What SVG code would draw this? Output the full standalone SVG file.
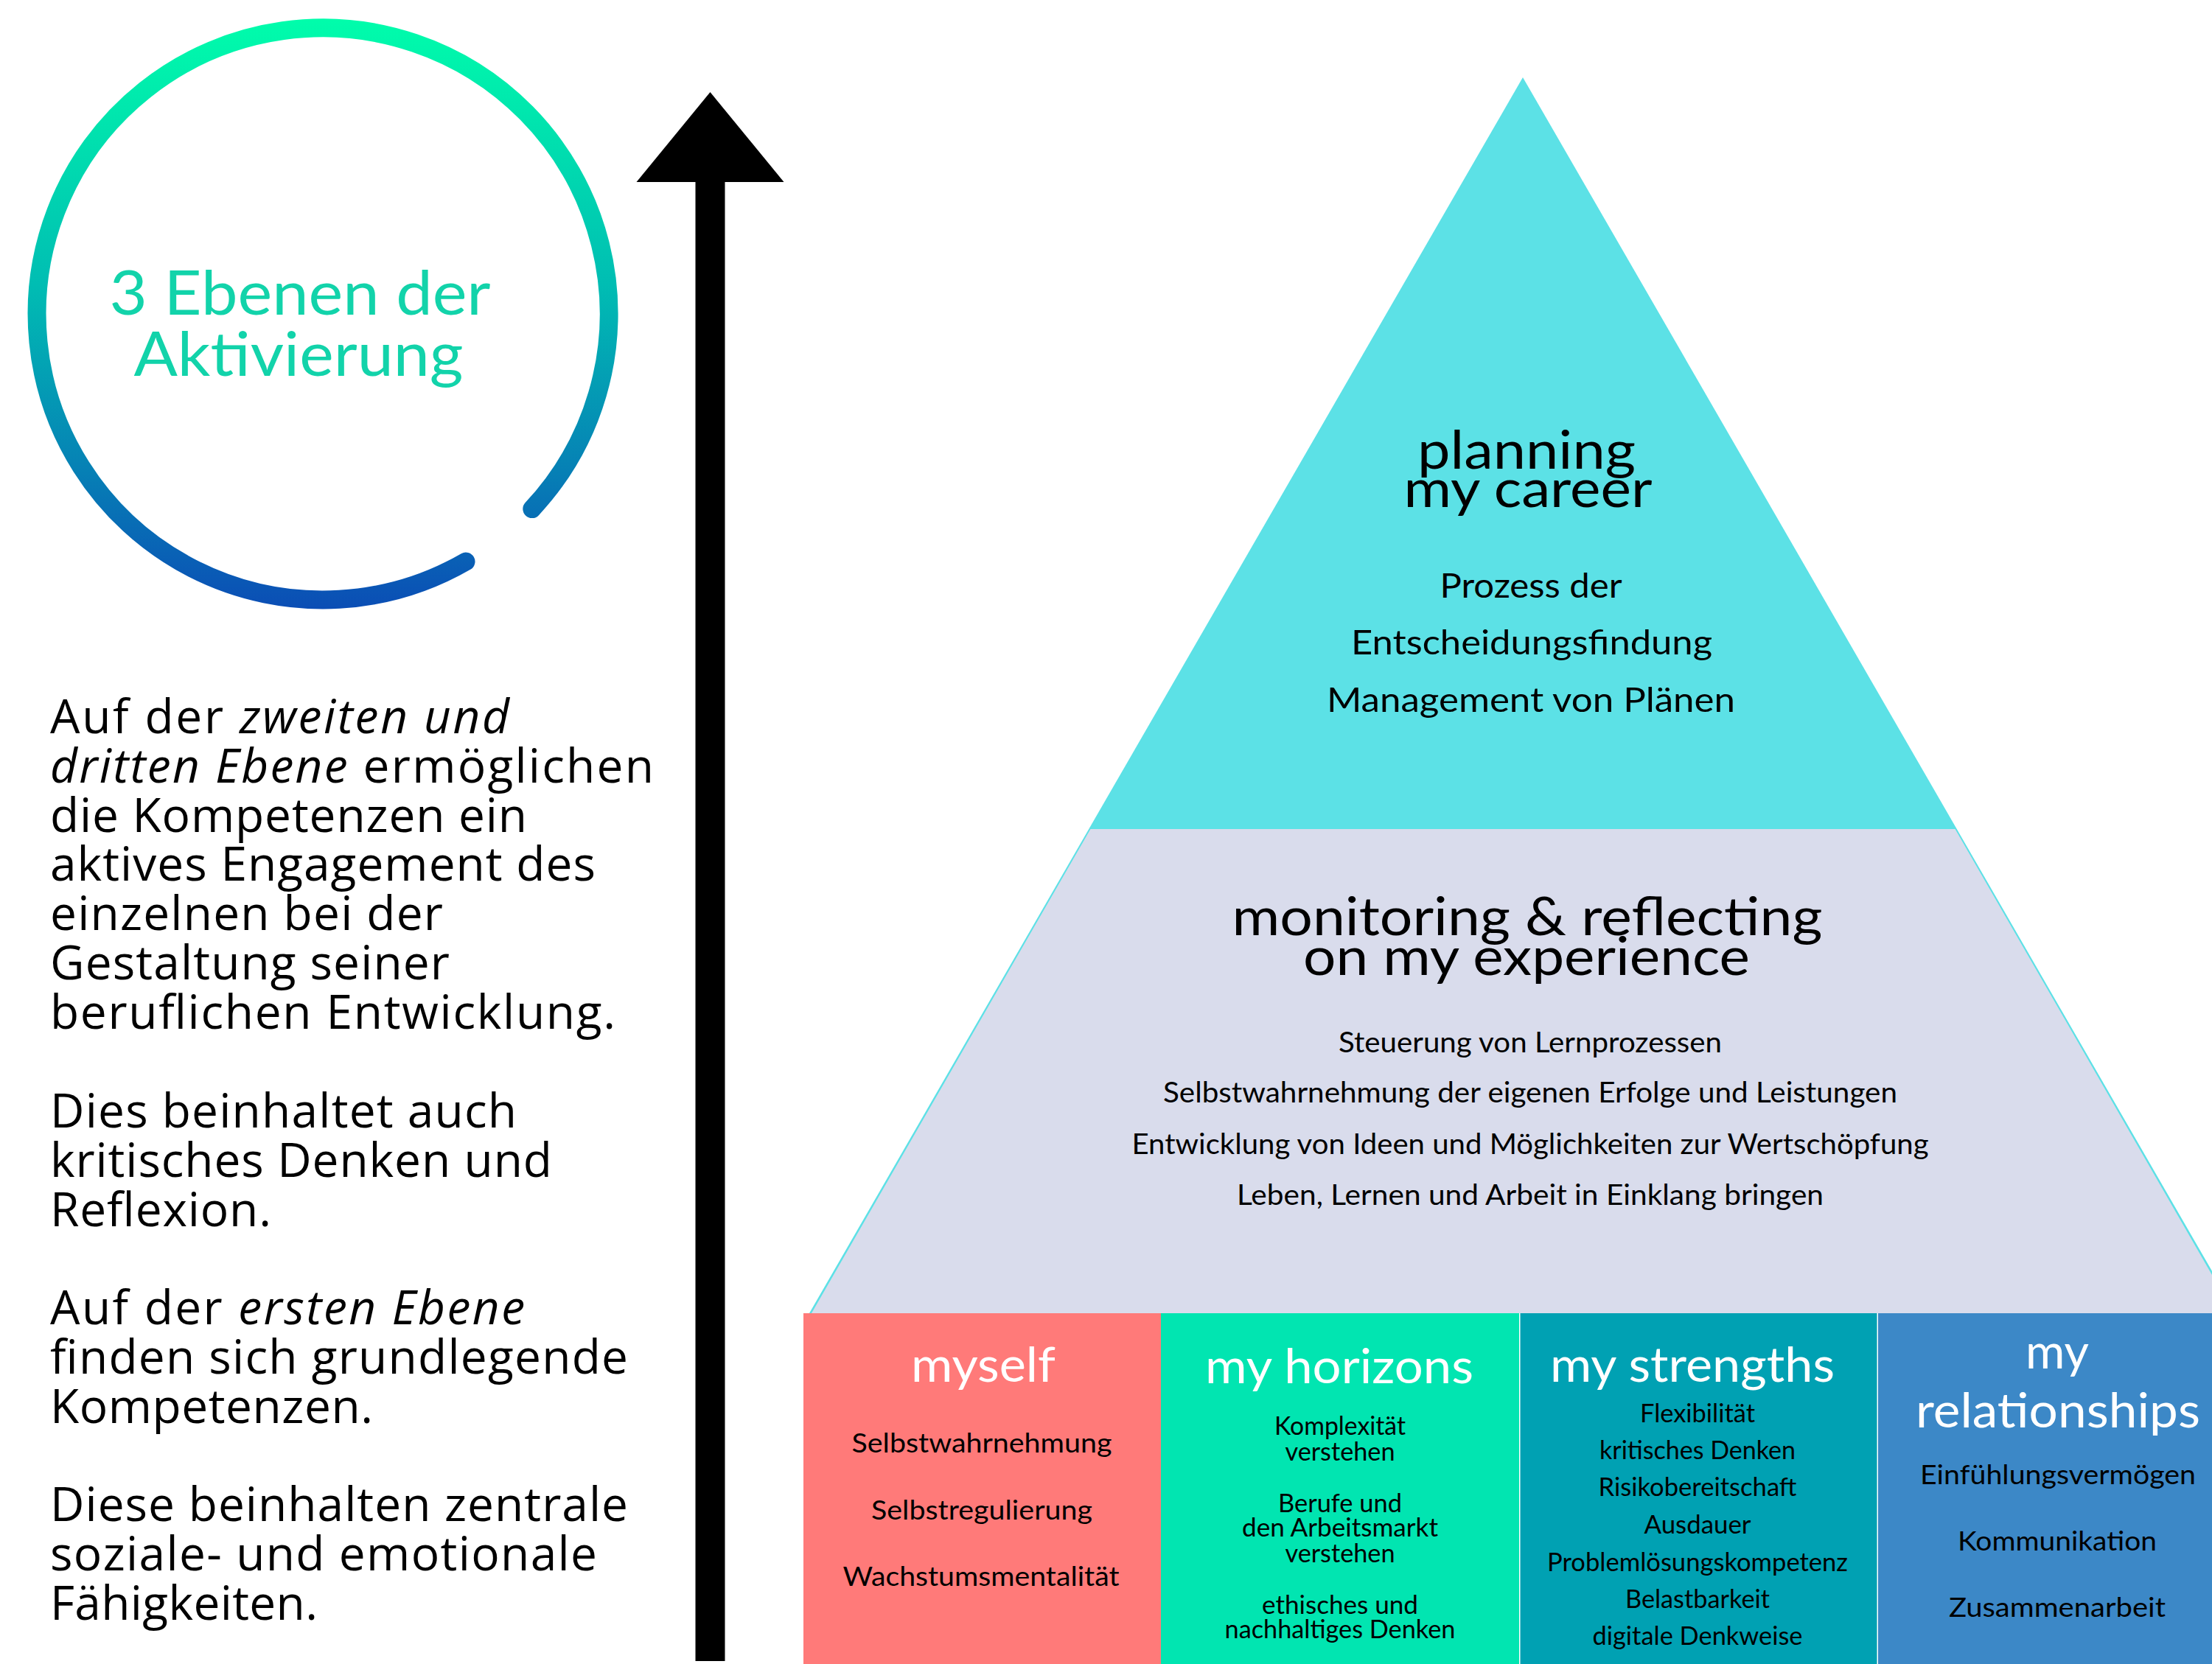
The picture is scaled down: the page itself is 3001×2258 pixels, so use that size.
<svg xmlns="http://www.w3.org/2000/svg" width="3001" height="2258" viewBox="0 0 3001 2258">
<defs>
<linearGradient id="ringGrad" gradientUnits="userSpaceOnUse" x1="0" y1="26" x2="0" y2="828">
<stop offset="0" stop-color="#00FDAB"/>
<stop offset="0.45" stop-color="#00BDB3"/>
<stop offset="0.75" stop-color="#0683B5"/>
<stop offset="1" stop-color="#0B4DB5"/>
</linearGradient>
<marker id="arrowHead" markerUnits="userSpaceOnUse" markerWidth="122" markerHeight="200" viewBox="0 0 122 200" refX="0" refY="100" orient="auto" overflow="visible">
<path d="M0,0 L122,100 L0,200 Z" fill="#000"/>
</marker>
</defs>
<style>
.body{font-family:"Open Sans","Noto Sans",sans-serif;font-size:64px;fill:#000}
.it{font-style:italic}
.cal{font-family:Lato,"Open Sans",sans-serif;text-anchor:middle}
.title{fill:#12D3AA;font-size:84px;font-weight:400}
.h1{font-size:72px;fill:#000}
.subtop{font-size:46px;fill:#000}
.submid{font-size:38px;fill:#000}
.bh{font-size:66px;fill:#fff}
.bil{font-size:37px;fill:#000}
.bis{font-size:34px;fill:#000}
</style>
<rect x="0" y="0" width="3001" height="2258" fill="#fff"/>

<g id="title-ring">
<path d="M 632 762 A 388 388 0 1 1 721.8 690.6" fill="none" stroke="url(#ringGrad)" stroke-width="25" stroke-linecap="round"/>
<text class="cal title" x="407" y="427" textLength="517" lengthAdjust="spacingAndGlyphs">3 Ebenen der</text>
<text class="cal title" x="405" y="510" textLength="447" lengthAdjust="spacingAndGlyphs">Aktivierung</text>
</g>

<g id="connectors">
<line x1="963.5" y1="2254" x2="963.5" y2="247" stroke="#000" stroke-width="40" marker-end="url(#arrowHead)"/>
</g>

<g id="description">
<text class="body" x="68" y="995" textLength="623">Auf der <tspan class="it">zweiten und</tspan></text>
<text class="body" x="68" y="1062" textLength="819"><tspan class="it">dritten Ebene</tspan> ermöglichen</text>
<text class="body" x="68" y="1129" textLength="647">die Kompetenzen ein</text>
<text class="body" x="68" y="1195" textLength="740">aktives Engagement des</text>
<text class="body" x="68" y="1262" textLength="533">einzelnen bei der</text>
<text class="body" x="68" y="1329" textLength="542">Gestaltung seiner</text>
<text class="body" x="68" y="1396" textLength="767">beruflichen Entwicklung.</text>
<text class="body" x="68" y="1530" textLength="633">Dies beinhaltet auch</text>
<text class="body" x="68" y="1597" textLength="681">kritisches Denken und</text>
<text class="body" x="68" y="1664" textLength="300">Reflexion.</text>
<text class="body" x="68" y="1797" textLength="644">Auf der <tspan class="it">ersten Ebene</tspan></text>
<text class="body" x="68" y="1864" textLength="784">finden sich grundlegende</text>
<text class="body" x="68" y="1931" textLength="438">Kompetenzen.</text>
<text class="body" x="68" y="2064" textLength="784">Diese beinhalten zentrale</text>
<text class="body" x="68" y="2131" textLength="742">soziale- und emotionale</text>
<text class="body" x="68" y="2198" textLength="363">Fähigkeiten.</text>
</g>

<g id="level-planning">
<polygon points="2066,105 3034,1782 1098,1782" fill="#5CE1E6"/>
<text class="cal h1" x="2071" y="636" textLength="296" lengthAdjust="spacingAndGlyphs">planning</text>
<text class="cal h1" x="2073" y="688" textLength="337" lengthAdjust="spacingAndGlyphs">my career</text>
<text class="cal subtop" x="2077" y="811" textLength="247" lengthAdjust="spacingAndGlyphs">Prozess der</text>
<text class="cal subtop" x="2078" y="888" textLength="490" lengthAdjust="spacingAndGlyphs">Entscheidungsfindung</text>
<text class="cal subtop" x="2077" y="966" textLength="554" lengthAdjust="spacingAndGlyphs">Management von Plänen</text>
</g>

<g id="level-monitoring">
<polygon points="1479.5,1125 2652.5,1125 3031,1782 1101,1782" fill="#D9DCEC"/>
<text class="cal h1" x="2072" y="1269" textLength="801" lengthAdjust="spacingAndGlyphs">monitoring &amp; reflecting</text>
<text class="cal h1" x="2071" y="1323" textLength="606" lengthAdjust="spacingAndGlyphs">on my experience</text>
<text class="cal submid" x="2076" y="1428" textLength="520" lengthAdjust="spacingAndGlyphs">Steuerung von Lernprozessen</text>
<text class="cal submid" x="2076" y="1496" textLength="996" lengthAdjust="spacingAndGlyphs">Selbstwahrnehmung der eigenen Erfolge und Leistungen</text>
<text class="cal submid" x="2076" y="1566" textLength="1081" lengthAdjust="spacingAndGlyphs">Entwicklung von Ideen und Möglichkeiten zur Wertschöpfung</text>
<text class="cal submid" x="2076" y="1635" textLength="796" lengthAdjust="spacingAndGlyphs">Leben, Lernen und Arbeit in Einklang bringen</text>
</g>

<g id="box-myself">
<rect x="1090" y="1782" width="485" height="476" fill="#FF7A79"/>
<text class="cal bh" x="1334" y="1875" textLength="196" lengthAdjust="spacingAndGlyphs">myself</text>
<text class="cal bil" x="1332" y="1971" textLength="353" lengthAdjust="spacingAndGlyphs">Selbstwahrnehmung</text>
<text class="cal bil" x="1332" y="2062" textLength="300" lengthAdjust="spacingAndGlyphs">Selbstregulierung</text>
<text class="cal bil" x="1331" y="2152" textLength="375" lengthAdjust="spacingAndGlyphs">Wachstumsmentalität</text>
</g>

<g id="box-horizons">
<rect x="1575" y="1782" width="486" height="476" fill="#01E5B1"/>
<text class="cal bh" x="1817" y="1877" textLength="364" lengthAdjust="spacingAndGlyphs">my horizons</text>
<text class="cal bis" x="1818" y="1947" textLength="178" lengthAdjust="spacingAndGlyphs">Komplexität</text>
<text class="cal bis" x="1818" y="1982" textLength="149" lengthAdjust="spacingAndGlyphs">verstehen</text>
<text class="cal bis" x="1818" y="2052" textLength="168" lengthAdjust="spacingAndGlyphs">Berufe und</text>
<text class="cal bis" x="1818" y="2085" textLength="266" lengthAdjust="spacingAndGlyphs">den Arbeitsmarkt</text>
<text class="cal bis" x="1818" y="2120" textLength="149" lengthAdjust="spacingAndGlyphs">verstehen</text>
<text class="cal bis" x="1818" y="2190" textLength="212" lengthAdjust="spacingAndGlyphs">ethisches und</text>
<text class="cal bis" x="1818" y="2223" textLength="313" lengthAdjust="spacingAndGlyphs">nachhaltiges Denken</text>
</g>

<g id="box-strengths">
<rect x="2062.5" y="1782" width="484" height="476" fill="#00A1B3"/>
<text class="cal bh" x="2296" y="1875" textLength="386" lengthAdjust="spacingAndGlyphs">my strengths</text>
<text class="cal bis" x="2303" y="1930" textLength="156" lengthAdjust="spacingAndGlyphs">Flexibilität</text>
<text class="cal bis" x="2303" y="1980" textLength="266" lengthAdjust="spacingAndGlyphs">kritisches Denken</text>
<text class="cal bis" x="2303" y="2030" textLength="269" lengthAdjust="spacingAndGlyphs">Risikobereitschaft</text>
<text class="cal bis" x="2303" y="2081" textLength="145" lengthAdjust="spacingAndGlyphs">Ausdauer</text>
<text class="cal bis" x="2303" y="2132" textLength="408" lengthAdjust="spacingAndGlyphs">Problemlösungskompetenz</text>
<text class="cal bis" x="2303" y="2182" textLength="196" lengthAdjust="spacingAndGlyphs">Belastbarkeit</text>
<text class="cal bis" x="2303" y="2232" textLength="285" lengthAdjust="spacingAndGlyphs">digitale Denkweise</text>
</g>

<g id="box-relationships">
<rect x="2548" y="1782" width="484" height="476" fill="#3C88C7"/>
<text class="cal bh" x="2791" y="1857" textLength="86" lengthAdjust="spacingAndGlyphs">my</text>
<text class="cal bh" x="2792" y="1937" textLength="386" lengthAdjust="spacingAndGlyphs">relationships</text>
<text class="cal bil" x="2792" y="2014" textLength="374" lengthAdjust="spacingAndGlyphs">Einfühlungsvermögen</text>
<text class="cal bil" x="2791" y="2104" textLength="270" lengthAdjust="spacingAndGlyphs">Kommunikation</text>
<text class="cal bil" x="2791" y="2194" textLength="294" lengthAdjust="spacingAndGlyphs">Zusammenarbeit</text>
</g>
</svg>
